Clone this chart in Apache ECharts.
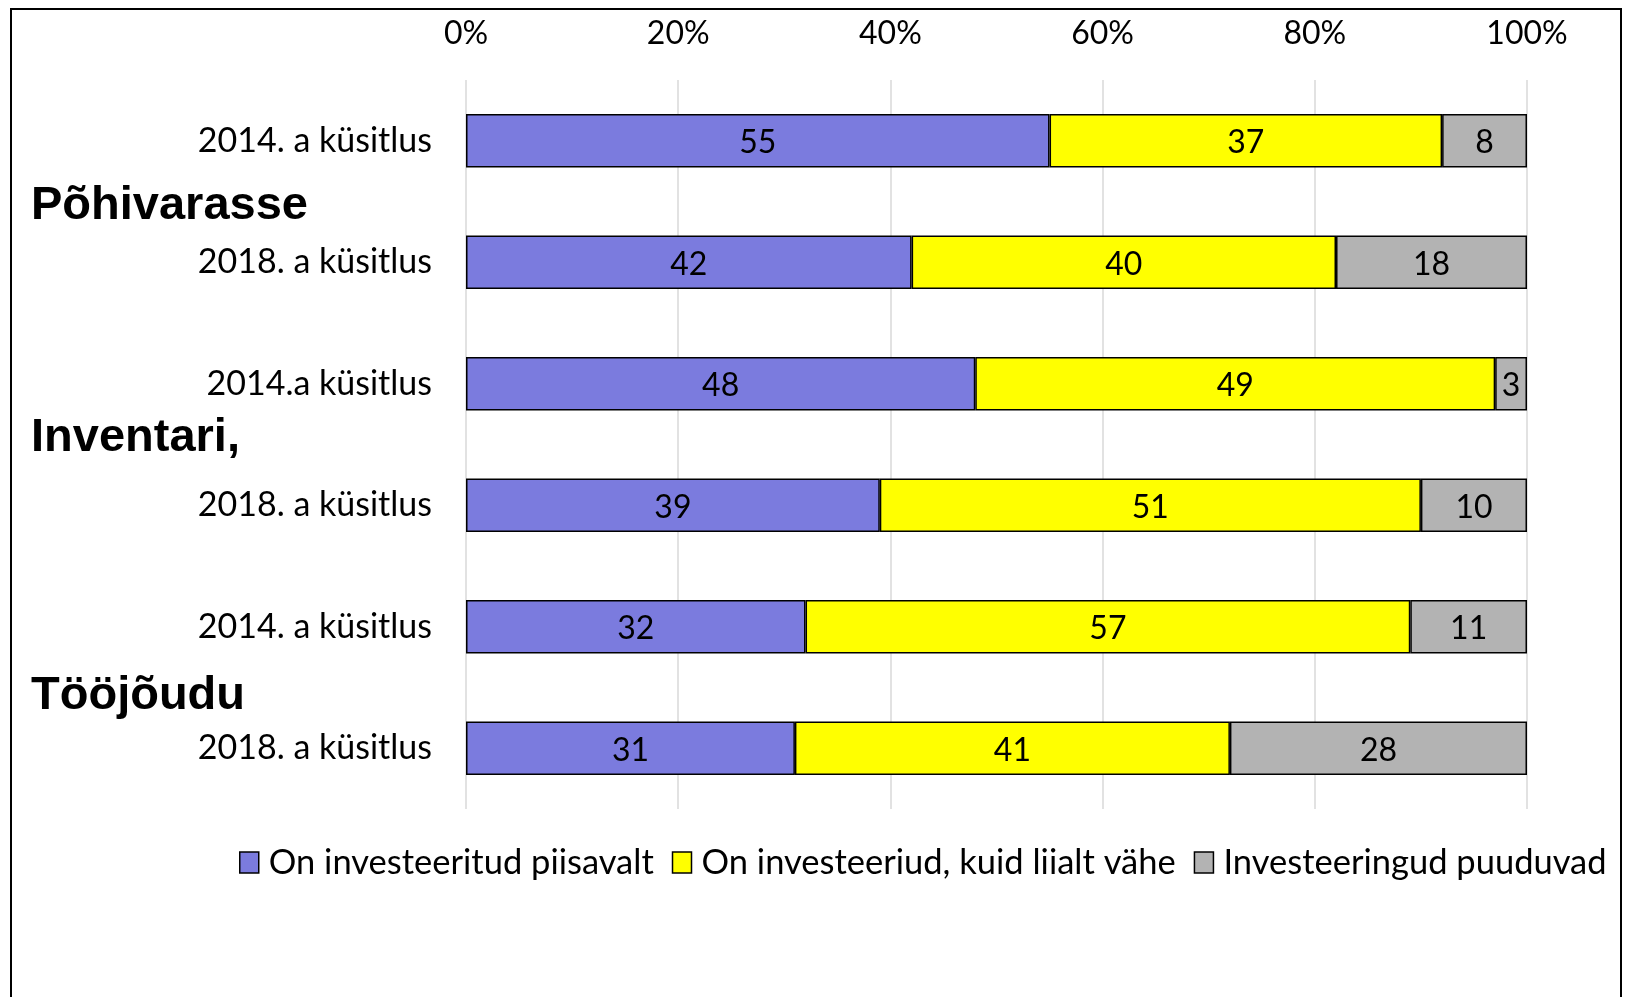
<!DOCTYPE html>
<html>
<head>
<meta charset="utf-8">
<script src="https://cdn.jsdelivr.net/npm/echarts@6/dist/echarts.min.js"></script>
<style>
	html, body { margin: 0; padding: 0; background: #fff; }
	#chart { width: 1651px; height: 997px; }
	.frame {
		position: absolute;
		left: 10px;
		top: 8px;
		width: 1612px;
		height: 1010px;
		border: 2px solid #000;
		box-sizing: border-box;
		pointer-events: none;
	}
</style>
</head>
<body>
<div id="chart"></div>
<div class="frame"></div>
<script>
// survey rows, top to bottom
const rows = [
	'2014. a küsitlus', '2018. a küsitlus',
	'2014.a küsitlus', '2018. a küsitlus',
	'2014. a küsitlus', '2018. a küsitlus'
];
const groups = ['Põhivarasse', 'Inventari,', 'Tööjõudu'];

const seriesNames = ['On investeeritud piisavalt', 'On investeeriud, kuid liialt vähe', 'Investeeringud puuduvad'];
const enough = [55, 42, 48, 39, 32, 31];
const tooLittle = [37, 40, 49, 51, 57, 41];
const none = [8, 18, 3, 10, 11, 28];
const colors = ['#7b7bde', '#ffff00', '#b3b3b3'];

const font = 'Lato, "Open Sans", sans-serif';
const boldFont = '"Liberation Sans", Arial, sans-serif';

const chart = echarts.init(document.getElementById('chart'));

const makeSeries = (name, data, color) => ({
	name,
	type: 'bar',
	stack: 'total',
	data,
	barCategoryGap: '56%',
	itemStyle: {
		color,
		borderColor: '#000',
		borderWidth: 1.5,
	},
	label: {
		show: true,
		position: 'inside',
		offset: [0, 2],
		color: '#000',
		fontFamily: font,
		fontSize: 32,
	},
});

// small nudges so the group titles sit where the original has them
const groupStyle = (pad) => ({
	fontFamily: boldFont,
	fontWeight: 'bold',
	fontSize: 47,
	color: '#000',
	padding: pad,
});

chart.setOption({
	animation: false,
	grid: {
		left: 466,
		right: 124,
		top: 80,
		bottom: 188,
	},
	legend: {
		left: 234,
		top: 840,
		icon: 'rect',
		itemWidth: 19,
		itemHeight: 21,
		itemGap: 18,
		itemStyle: {
			borderColor: '#000',
			borderWidth: 1.5,
		},
		textStyle: {
			fontFamily: font,
			fontSize: 34.5,
			color: '#000',
			padding: [0, 0, 0, 5],
		},
		data: seriesNames,
	},
	xAxis: {
		type: 'value',
		position: 'top',
		min: 0,
		max: 100,
		interval: 20,
		axisLine: { show: false },
		axisTick: { show: false },
		axisLabel: {
			formatter: '{value}%',
			color: '#000',
			fontFamily: font,
			fontSize: 32,
			margin: 30,
		},
		splitLine: {
			lineStyle: { color: '#d9d9d9', width: 1.5 },
		},
	},
	yAxis: [
		{
			type: 'category',
			data: rows,
			inverse: true,
			axisLine: { show: false },
			axisTick: { show: false },
			axisLabel: {
				color: '#000',
				fontFamily: font,
				fontSize: 34,
				margin: 34,
			},
		},
		{
			type: 'category',
			data: groups,
			inverse: true,
			position: 'left',
			axisLine: { show: false },
			axisTick: { show: false },
			splitLine: { show: false },
			axisLabel: {
				align: 'left',
				margin: 435,
				formatter: (value, index) => `{g${index}|${value}}`,
				rich: {
					g0: groupStyle([10, 0, 0, 0]),
					g1: groupStyle([0, 0, 12, 0]),
					g2: groupStyle([18, 0, 0, 0]),
				},
			},
		},
	],
	series: [
		makeSeries(seriesNames[0], enough, colors[0]),
		makeSeries(seriesNames[1], tooLittle, colors[1]),
		makeSeries(seriesNames[2], none, colors[2]),
	],
});
</script>
</body>
</html>
